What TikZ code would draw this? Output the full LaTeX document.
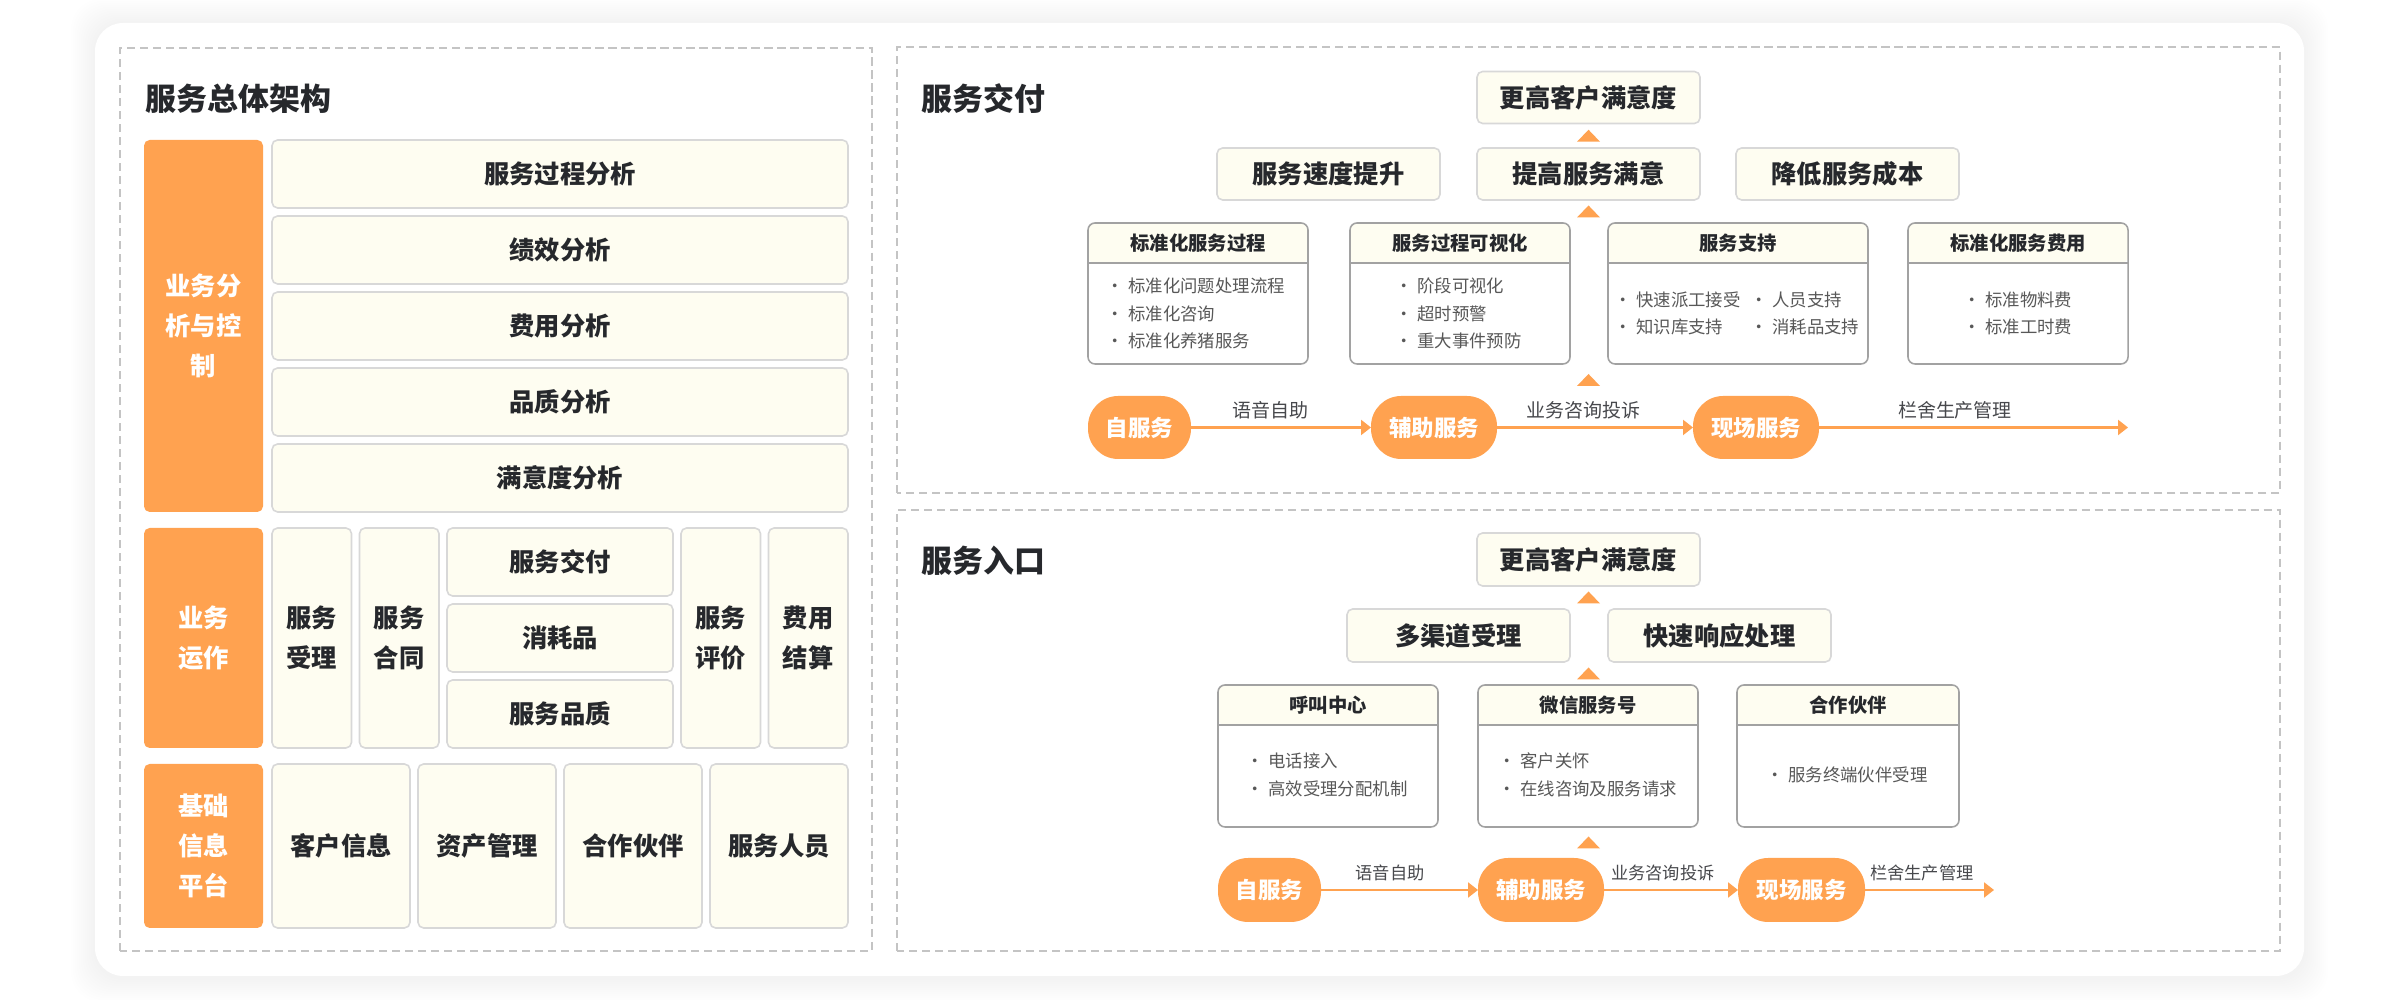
\documentclass[tikz,border=0pt]{standalone}
\usepackage{fontspec}
\setmainfont{Noto Sans CJK SC}
\usepackage{tikz}
\usetikzlibrary{arrows.meta, positioning, calc}
\definecolor{svcorange}{RGB}{255,162,80}
\definecolor{svccream}{RGB}{254,253,241}
\definecolor{cellline}{RGB}{216,216,216}
\definecolor{cardline}{RGB}{162,162,162}
\definecolor{dashline}{RGB}{196,196,196}
\definecolor{inkdark}{RGB}{38,40,44}
\definecolor{inkgray}{RGB}{88,88,88}
\tikzset{
  panel/.style={draw=dashline, line width=0.45pt, dash pattern=on 2.3pt off 1.4pt},
  paneltitle/.style={anchor=west, inner sep=0pt, text=inkdark,
    font=\fontsize{8.8}{10}\selectfont\bfseries},
  side/.style={rectangle, fill=svcorange, rounded corners=1.6pt, minimum width=1.19cm,
    inner sep=0pt, outer sep=0pt, align=center, text=white,
    font=\fontsize{7.2}{11.4}\selectfont\bfseries},
  cell/.style={rectangle, draw=cellline, fill=svccream, rounded corners=1.6pt,
    line width=0.45pt, inner sep=0pt, outer sep=0pt, align=center, text=inkdark,
    font=\fontsize{7.2}{11.4}\selectfont\bfseries},
  wide/.style={cell, minimum width=5.76cm, minimum height=0.68cm},
  tall/.style={cell, minimum width=0.795cm, minimum height=2.20cm},
  mid/.style={cell, minimum width=2.26cm, minimum height=0.68cm},
  base/.style={cell, minimum width=1.38cm, minimum height=1.64cm},
  goal/.style={cell, minimum width=2.23cm, minimum height=0.52cm},
  cardbox/.style={rectangle, draw=cardline, fill=white, rounded corners=2pt,
    line width=0.45pt, inner sep=0pt, outer sep=0pt, minimum height=1.41cm,
    path picture={
      \fill[svccream] (path picture bounding box.north west) rectangle
        ([yshift=-0.40cm]path picture bounding box.north east);
      \draw[cardline, line width=0.45pt] ([yshift=-0.40cm]path picture bounding box.north west)
        -- ([yshift=-0.40cm]path picture bounding box.north east);}},
  cardhead/.style={inner sep=0pt, text=inkdark, font=\fontsize{5.5}{6.5}\selectfont\bfseries},
  bullets/.style={anchor=west, inner sep=0pt, align=left, text=inkgray,
    font=\fontsize{4.95}{7.8}\selectfont},
  pill/.style={rectangle, fill=svcorange, rounded corners=8.6pt, minimum height=0.63cm,
    inner sep=0pt, outer sep=0pt, text=white, font=\fontsize{6.4}{7}\selectfont\bfseries},
  flow/.style={draw=svcorange, line width=0.6pt, -{Triangle[length=0.10cm, width=0.15cm]}},
  flowtag/.style={pos=0.44, yshift=0.17cm, inner sep=0pt, text=inkdark!85,
    font=\fontsize{5.4}{6}\selectfont},
  smalltag/.style={flowtag, font=\fontsize{4.9}{6}\selectfont},
  uptri/.style={fill=svcorange}
}
\begin{document}
\begin{tikzpicture}
  \useasboundingbox (0,0) rectangle (24,10);
  \fill[white] (0,0) rectangle (24,10);
  % white card with a soft halo
  \foreach \i [evaluate=\i as \d using \i*0.02] in {1,...,12}
    \fill[black, opacity=0.005, rounded corners=0.3cm] ({0.95-\d},{0.22-\d}) rectangle ({23.04+\d},{9.77+\d});
  \fill[white, rounded corners=0.28cm] (0.95,0.24) rectangle (23.04,9.77);

  % overall architecture
  \draw[panel] (1.20,0.49) rectangle (8.72,9.52);
  \node[paneltitle] (archtitle) at (1.45,9.01) {服务总体架构};

  \node[side, minimum height=3.72cm] (ana) at (2.035,6.74) {业务分\\析与控\\制};
  \node[wide] (ana1) at (5.60,8.26) {服务过程分析};
  \node[wide, below=0.08cm of ana1] (ana2) {绩效分析};
  \node[wide, below=0.08cm of ana2] (ana3) {费用分析};
  \node[wide, below=0.08cm of ana3] (ana4) {品质分析};
  \node[wide, below=0.08cm of ana4] (ana5) {满意度分析};

  \node[side, minimum height=2.20cm] (ops) at (2.035,3.62) {业务\\运作};
  \node[tall] (ops1) at (3.1175,3.62) {服务\\受理};
  \node[tall, right=0.08cm of ops1] (ops2) {服务\\合同};
  \node[mid, below right=0cm and 0.08cm of ops2.north east] (ops3) {服务交付};
  \node[mid, below=0.08cm of ops3] (ops4) {消耗品};
  \node[mid, below=0.08cm of ops4] (ops5) {服务品质};
  \node[tall, below right=0cm and 0.08cm of ops3.north east] (ops6) {服务\\评价};
  \node[tall, right=0.08cm of ops6] (ops7) {费用\\结算};

  \node[side, minimum height=1.64cm] (plat) at (2.035,1.54) {基础\\信息\\平台};
  \node[base] (plat1) at (3.41,1.54) {客户信息};
  \node[base, right=0.08cm of plat1] (plat2) {资产管理};
  \node[base, right=0.08cm of plat2] (plat3) {合作伙伴};
  \node[base, right=0.08cm of plat3] (plat4) {服务人员};

  % service delivery
  \draw[panel] (8.97,5.07) rectangle (22.80,9.53);
  \node[paneltitle] (deltitle) at (9.21,9.01) {服务交付};

  \node[goal] (delgoal) at (15.885,9.025) {更高客户满意度};
  \node[goal] (delsat) at (15.885,8.26) {提高服务满意};
  \node[goal, left=0.37cm of delsat] (delspeed) {服务速度提升};
  \node[goal, right=0.36cm of delsat] (delcost) {降低服务成本};

  \node[cardbox, minimum width=2.20cm] (stdproc) at (11.98,7.065) {};
  \node[cardbox, minimum width=2.20cm] (visual) at (14.60,7.065) {};
  \node[cardbox, minimum width=2.60cm] (support) at (17.38,7.065) {};
  \node[cardbox, minimum width=2.20cm] (stdfee) at (20.18,7.065) {};
  \node[cardhead] (stdprochead) at ([yshift=-0.20cm]stdproc.north) {标准化服务过程};
  \node[cardhead] (visualhead) at ([yshift=-0.20cm]visual.north) {服务过程可视化};
  \node[cardhead] (supporthead) at ([yshift=-0.20cm]support.north) {服务支持};
  \node[cardhead] (stdfeehead) at ([yshift=-0.20cm]stdfee.north) {标准化服务费用};
  \node[bullets] (stdproclist) at (11.06,6.865)
    {•\hspace{1.2pt}标准化问题处理流程\\•\hspace{1.2pt}标准化咨询\\•\hspace{1.2pt}标准化养猪服务};
  \node[bullets] (visuallist) at (13.95,6.865)
    {•\hspace{1.2pt}阶段可视化\\•\hspace{1.2pt}超时预警\\•\hspace{1.2pt}重大事件预防};
  \node[bullets] (supportlist) at (16.14,6.865) {•\hspace{1.2pt}快速派工接受\\•\hspace{1.2pt}知识库支持};
  \node[bullets] (supportlist2) at (17.50,6.865) {•\hspace{1.2pt}人员支持\\•\hspace{1.2pt}消耗品支持};
  \node[bullets] (stdfeelist) at (19.63,6.865) {•\hspace{1.2pt}标准物料费\\•\hspace{1.2pt}标准工时费};

  \node[pill, minimum width=1.03cm] (delself) at (11.395,5.725) {自服务};
  \node[pill, minimum width=1.26cm] (delassist) at (14.34,5.725) {辅助服务};
  \node[pill, minimum width=1.26cm] (delsite) at (17.56,5.725) {现场服务};
  \coordinate (delend) at (21.28,5.725);
  \draw[flow] (delself) -- node[flowtag] (deltag1) {语音自助} (delassist);
  \draw[flow] (delassist) -- node[flowtag] (deltag2) {业务咨询投诉} (delsite);
  \draw[flow] (delsite) -- node[flowtag] (deltag3) {栏舍生产管理} (delend);

  % service entry
  \draw[panel] (8.97,0.49) rectangle (22.80,4.90);
  \node[paneltitle] (enttitle) at (9.21,4.39) {服务入口};

  \node[goal, minimum height=0.53cm] (entgoal) at (15.885,4.405) {更高客户满意度};
  \node[goal, minimum height=0.53cm] (entmulti) at (14.585,3.645) {多渠道受理};
  \node[goal, minimum height=0.53cm] (entfast) at (17.195,3.645) {快速响应处理};

  \node[cardbox, minimum width=2.20cm, minimum height=1.42cm] (call) at (13.28,2.44) {};
  \node[cardbox, minimum width=2.20cm, minimum height=1.42cm] (wechat) at (15.88,2.44) {};
  \node[cardbox, minimum width=2.22cm, minimum height=1.42cm] (partner) at (18.48,2.44) {};
  \node[cardhead] (callhead) at ([yshift=-0.20cm]call.north) {呼叫中心};
  \node[cardhead] (wechathead) at ([yshift=-0.20cm]wechat.north) {微信服务号};
  \node[cardhead] (partnerhead) at ([yshift=-0.20cm]partner.north) {合作伙伴};
  \node[bullets] (calllist) at (12.46,2.25) {•\hspace{1.2pt}电话接入\\•\hspace{1.2pt}高效受理分配机制};
  \node[bullets] (wechatlist) at (14.98,2.25) {•\hspace{1.2pt}客户关怀\\•\hspace{1.2pt}在线咨询及服务请求};
  \node[bullets] (partnerlist) at (17.66,2.25) {•\hspace{1.2pt}服务终端伙伴受理};

  \node[pill, minimum width=1.03cm, minimum height=0.64cm] (entself) at (12.695,1.10) {自服务};
  \node[pill, minimum width=1.26cm, minimum height=0.64cm] (entassist) at (15.41,1.10) {辅助服务};
  \node[pill, minimum width=1.27cm, minimum height=0.64cm] (entsite) at (18.015,1.10) {现场服务};
  \coordinate (entend) at (19.94,1.10);
  \draw[flow] (entself) -- node[smalltag] (enttag1) {语音自助} (entassist);
  \draw[flow] (entassist) -- node[smalltag] (enttag2) {业务咨询投诉} (entsite);
  \draw[flow] (entsite) -- node[smalltag] (enttag3) {栏舍生产管理} (entend);

  % small up markers between the levels
  \coordinate (tri1) at ($(delgoal.south)!0.5!(delsat.north)$);
  \coordinate (tri2) at ($(delsat.south)!0.5!(delsat.south |- visual.north)$);
  \coordinate (tri3) at ($(delsat.south |- visual.south)!0.5!(delsat.south |- delassist.north)$);
  \coordinate (tri4) at ($(entgoal.south)!0.5!(entgoal.south |- entmulti.north)$);
  \coordinate (tri5) at ($(entgoal.south |- entmulti.south)!0.5!(entgoal.south |- wechat.north)$);
  \coordinate (tri6) at ($(entgoal.south |- wechat.south)!0.5!(entgoal.south |- entassist.north)$);
  \foreach \tp in {tri1,tri2,tri3,tri4,tri5,tri6}
    \fill[uptri] ([shift={(-0.115,-0.06)}]\tp) -- ([shift={(0.115,-0.06)}]\tp) -- ([shift={(0,0.06)}]\tp) -- cycle;
\end{tikzpicture}
\end{document}
